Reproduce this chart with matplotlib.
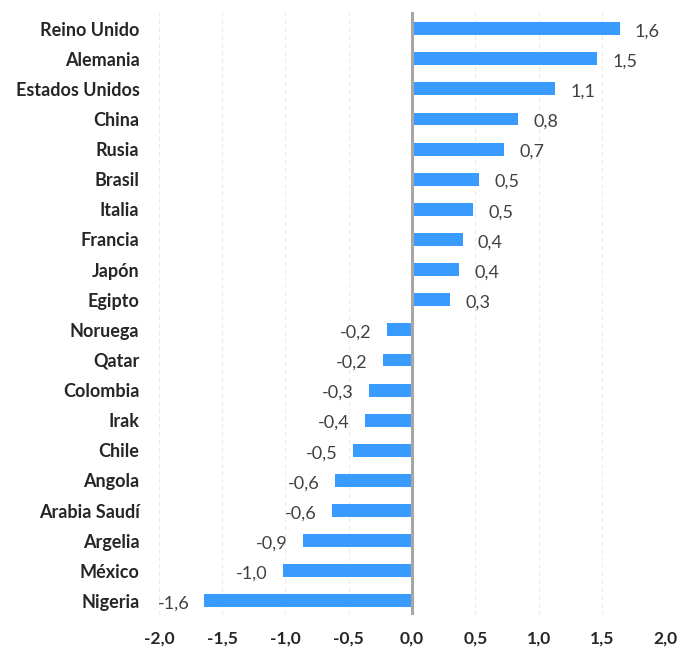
import matplotlib
matplotlib.use("Agg")
import matplotlib.pyplot as plt

categories = ["Reino Unido", "Alemania", "Estados Unidos", "China", "Rusia", "Brasil",
              "Italia", "Francia", "Japón", "Egipto", "Noruega", "Qatar", "Colombia",
              "Irak", "Chile", "Angola", "Arabia Saudí", "Argelia", "México", "Nigeria"]
values = [1.64, 1.46, 1.13, 0.84, 0.73, 0.53, 0.48, 0.40, 0.37, 0.30,
          -0.20, -0.23, -0.34, -0.37, -0.47, -0.61, -0.63, -0.86, -1.02, -1.64]
xticks = [-2.0, -1.5, -1.0, -0.5, 0.0, 0.5, 1.0, 1.5, 2.0]

plt.rcParams['font.family'] = ['Lato', 'DejaVu Sans']

fig = plt.figure(figsize=(6.85, 6.53), dpi=100)
ax = fig.add_axes([0.232, 0.058, 0.739, 0.924])

ypos = list(range(len(categories)))
ax.barh(ypos, values, height=0.43, color='#3A9BFF', zorder=3)

ax.set_xlim(-2.0, 2.0)
ax.set_ylim(len(categories) - 0.53, -0.56)

ax.set_xticks(xticks)
ax.set_xticklabels([f"{t:.1f}".replace('.', ',') for t in xticks],
                   fontsize=12.5, fontweight='bold', color='#262626')
ax.set_yticks(ypos)
ax.set_yticklabels(categories, fontsize=13, fontweight='bold', color='#262626')
ax.tick_params(axis='both', length=0)
ax.tick_params(axis='y', pad=14)
ax.tick_params(axis='x', pad=11)

for s in ax.spines.values():
    s.set_visible(False)

ax.grid(axis='x', color='#EBEBEB', linestyle=(0, (4, 3)), linewidth=0.8, zorder=0)
ax.axvline(0, color='#A6A6A6', linewidth=2.2, zorder=4)

for y, v in zip(ypos, values):
    lab = f"{round(v, 1):.1f}".replace('.', ',')
    if v >= 0:
        ax.annotate(lab, (v, y), xytext=(11, -2), textcoords='offset points',
                    ha='left', va='center', fontsize=13, color='#404040')
    else:
        ax.annotate(lab, (v, y), xytext=(-11, -2), textcoords='offset points',
                    ha='right', va='center', fontsize=13, color='#404040')

fig.savefig('out.png', dpi=100)
